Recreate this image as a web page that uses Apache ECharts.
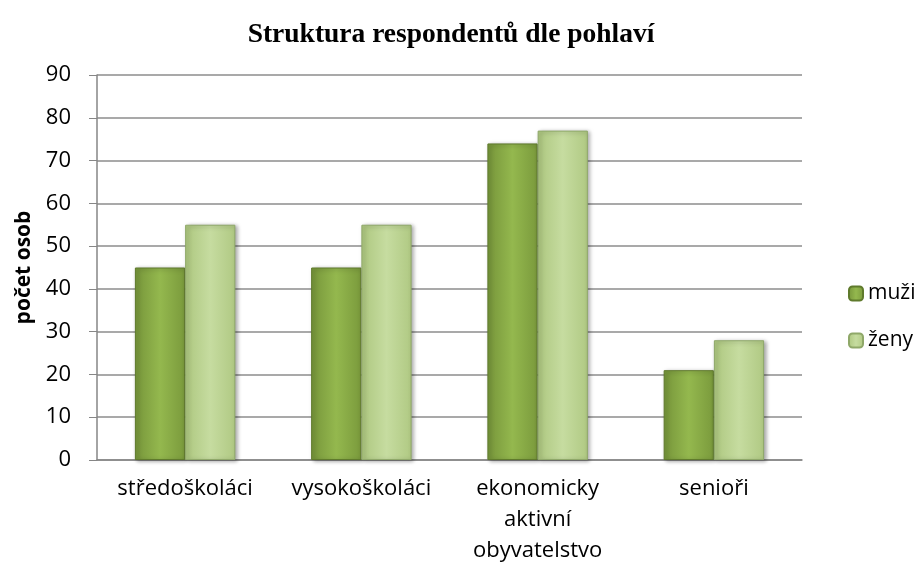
<!DOCTYPE html>
<html>
<head>
<meta charset="utf-8">
<script src="https://cdn.jsdelivr.net/npm/echarts@6/dist/echarts.min.js"></script>
<style>
  html, body { margin: 0; padding: 0; background: #fff; }
  #chart { width: 919px; height: 571px; }
</style>
</head>
<body>
<div id="chart"></div>
<script>
// data
var categories = ['středoškoláci', 'vysokoškoláci', 'ekonomicky\naktivní\nobyvatelstvo', 'senioři'];
var muzi = [45, 45, 74, 21];
var zeny = [55, 55, 77, 28];
var yTicks = [0, 10, 20, 30, 40, 50, 60, 70, 80, 90];

function grad(c1, c2, c3) {
    return new echarts.graphic.LinearGradient(0, 0, 1, 0, [
        { offset: 0, color: c1 },
        { offset: 0.5, color: c2 },
        { offset: 1, color: c3 }
    ]);
}

var chart = echarts.init(document.getElementById('chart'));
var labelFont = 'Open Sans, Liberation Sans, sans-serif';

var option = {
    animation: false,
    title: {
        text: 'Struktura respondentů dle pohlaví',
        left: 446,
        textAlign: 'center',
        top: 16,
        textStyle: {
            fontFamily: 'Liberation Serif, serif',
            fontSize: 27.5,
            fontWeight: 'bold',
            color: '#000'
        }
    },
    legend: {
        orient: 'vertical',
        left: 843,
        top: 278,
        itemGap: 26,
        itemWidth: 14,
        itemHeight: 14,
        textStyle: { fontFamily: labelFont, fontSize: 21, color: '#000' },
        data: ['muži', 'ženy']
    },
    grid: {
        left: 97,
        right: 117,
        top: 75,
        bottom: 111
    },
    xAxis: {
        type: 'category',
        data: categories,
        axisLine: { lineStyle: { color: '#868686', width: 1.5 } },
        axisTick: { show: false },
        axisLabel: {
            interval: 0,
            hideOverlap: false,
            fontFamily: labelFont,
            fontSize: 22,
            color: '#000',
            lineHeight: 31,
            margin: 13
        }
    },
    yAxis: {
        type: 'value',
        min: yTicks[0],
        max: yTicks[yTicks.length - 1],
        interval: 10,
        name: 'počet osob',
        nameLocation: 'middle',
        nameGap: 62,
        nameTextStyle: { fontFamily: labelFont, fontSize: 21, fontWeight: 'bold', color: '#000' },
        axisLine: { show: true, lineStyle: { color: '#868686', width: 1.5 } },
        axisTick: { show: true, length: 8, lineStyle: { color: '#868686' } },
        splitLine: { lineStyle: { color: '#8c8c8c', width: 1.5 } },
        axisLabel: {
            fontFamily: labelFont,
            fontSize: 22,
            color: '#000',
            margin: 26
        }
    },
    series: [
        {
            name: 'muži',
            type: 'bar',
            data: muzi,
            barGap: '0%',
            barCategoryGap: '43%',
            itemStyle: {
                color: grad('#76953a', '#94b84e', '#7a9a3c'),
                borderColor: '#5f7a2c',
                borderWidth: 1,
                shadowColor: 'rgba(0,0,0,0.35)',
                shadowBlur: 4,
                shadowOffsetX: 2,
                shadowOffsetY: 1
            }
        },
        {
            name: 'ženy',
            type: 'bar',
            data: zeny,
            itemStyle: {
                color: grad('#adc77f', '#c6dca0', '#b0c983'),
                borderColor: '#8fa869',
                borderWidth: 1,
                shadowColor: 'rgba(0,0,0,0.35)',
                shadowBlur: 4,
                shadowOffsetX: 2,
                shadowOffsetY: 1
            }
        }
    ]
};

chart.setOption(option);
</script>
</body>
</html>
